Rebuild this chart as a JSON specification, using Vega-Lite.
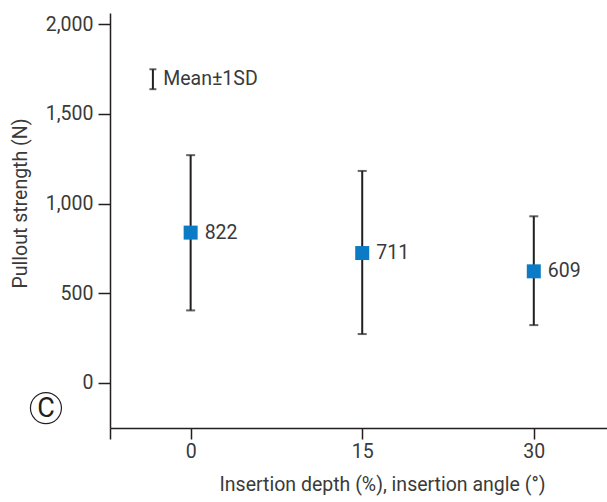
{
  "$schema": "https://vega.github.io/schema/vega-lite/v6.json",
  "width": 497,
  "height": 415,
  "autosize": {"type": "none"},
  "padding": {"left": 110, "top": 13, "right": 0, "bottom": 74},
  "background": "white",
  "config": {
    "view": {"stroke": null},
    "font": "Roboto",
    "axis": {
      "grid": false,
      "domainColor": "#231f20",
      "domainWidth": 1.5,
      "tickColor": "#231f20",
      "tickWidth": 1.5,
      "labelColor": "#3a3a3a",
      "titleColor": "#3a3a3a",
      "labelFont": "Roboto",
      "titleFont": "Roboto",
      "labelFontSize": 19.5,
      "titleFontSize": 19.5,
      "titleFontWeight": "normal"
    }
  },
  "datasets": {
    "groups": [
      {"g": 0, "mean": 838, "lo": 404, "hi": 1270, "label": "822"},
      {"g": 15, "mean": 724, "lo": 272, "hi": 1182, "label": "711"},
      {"g": 30, "mean": 622, "lo": 322, "hi": 929, "label": "609"}
    ],
    "legend": [
      {"g": -3.3, "lo": 1638, "hi": 1749, "mid": 1693, "tx": -2.4, "label": "Mean±1SD"}
    ],
    "panel": [
      {"g": -12.65, "v": -141, "label": "C"}
    ]
  },
  "layer": [
    {
      "data": {"name": "groups"},
      "mark": {"type": "errorbar", "ticks": {"size": 9, "thickness": 2, "color": "#231f20"}, "thickness": 2, "color": "#231f20"},
      "encoding": {
        "x": {
          "field": "g", "type": "quantitative",
          "title": "Insertion depth (%), insertion angle (°)",
          "scale": {"domain": [-7.05, 36.4], "nice": false, "zero": false},
          "axis": {
            "values": [-7.05, 0, 15, 30],
            "labelExpr": "datum.value < -1 ? '' : datum.label",
            "tickSize": 11,
            "labelPadding": 3,
            "titleX": 272,
            "titleY": 62,
            "titleAlign": "center",
            "titleBaseline": "alphabetic"
          }
        },
        "y": {
          "field": "lo", "type": "quantitative",
          "title": "Pullout strength (N)",
          "scale": {"domain": [-252, 2063], "nice": false, "zero": false},
          "axis": {
            "values": [0, 500, 1000, 1500, 2000],
            "format": ",.0f",
            "tickSize": 12,
            "labelPadding": 5,
            "titleX": -84,
            "titleY": 190,
            "titleAlign": "center",
            "titleBaseline": "alphabetic",
            "titleAngle": -90
          }
        },
        "y2": {"field": "hi"}
      }
    },
    {
      "data": {"name": "groups"},
      "mark": {"type": "square", "size": 196, "color": "#0a7bc4", "opacity": 1, "filled": true},
      "encoding": {
        "x": {"field": "g", "type": "quantitative", "title": "Insertion depth (%), insertion angle (°)"},
        "y": {"field": "mean", "type": "quantitative", "title": "Pullout strength (N)"}
      }
    },
    {
      "data": {"name": "groups"},
      "mark": {"type": "text", "align": "left", "baseline": "middle", "dx": 14, "fontSize": 19.5, "color": "#3a3a3a"},
      "encoding": {
        "x": {"field": "g", "type": "quantitative", "title": "Insertion depth (%), insertion angle (°)"},
        "y": {"field": "mean", "type": "quantitative", "title": "Pullout strength (N)"},
        "text": {"field": "label"}
      }
    },
    {
      "data": {"name": "legend"},
      "mark": {"type": "errorbar", "ticks": {"size": 7, "thickness": 2, "color": "#231f20"}, "thickness": 2, "color": "#231f20"},
      "encoding": {
        "x": {"field": "g", "type": "quantitative", "title": "Insertion depth (%), insertion angle (°)"},
        "y": {"field": "lo", "type": "quantitative", "title": "Pullout strength (N)"},
        "y2": {"field": "hi"}
      }
    },
    {
      "data": {"name": "legend"},
      "mark": {"type": "text", "align": "left", "baseline": "middle", "fontSize": 19.5, "color": "#3a3a3a"},
      "encoding": {
        "x": {"field": "tx", "type": "quantitative", "title": "Insertion depth (%), insertion angle (°)"},
        "y": {"field": "mid", "type": "quantitative", "title": "Pullout strength (N)"},
        "text": {"field": "label"}
      }
    },
    {
      "data": {"name": "panel"},
      "mark": {"type": "point", "shape": "circle", "size": 961, "filled": false, "stroke": "#231f20", "strokeWidth": 1.2, "opacity": 1},
      "encoding": {
        "x": {"field": "g", "type": "quantitative", "title": "Insertion depth (%), insertion angle (°)"},
        "y": {"field": "v", "type": "quantitative", "title": "Pullout strength (N)"}
      }
    },
    {
      "data": {"name": "panel"},
      "mark": {"type": "text", "align": "center", "baseline": "middle", "fontSize": 27, "font": "Roboto", "color": "#231f20", "dy": 1},
      "encoding": {
        "x": {"field": "g", "type": "quantitative", "title": "Insertion depth (%), insertion angle (°)"},
        "y": {"field": "v", "type": "quantitative", "title": "Pullout strength (N)"},
        "text": {"field": "label"}
      }
    }
  ]
}
